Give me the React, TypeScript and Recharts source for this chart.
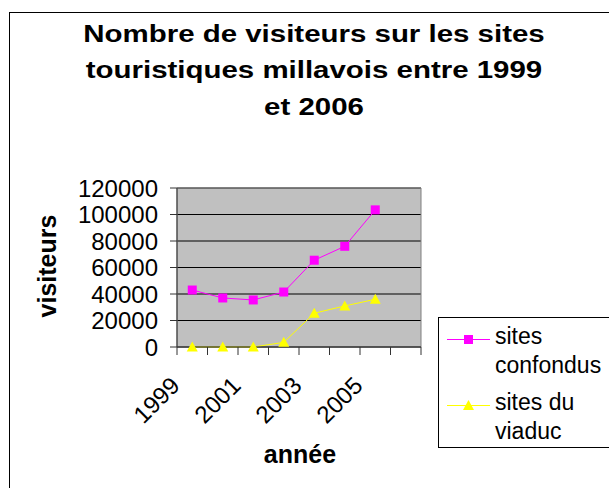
import { LineChart, Line, XAxis, YAxis, CartesianGrid, Legend, ReferenceArea } from "recharts"

const FONT = "'Liberation Sans', Arial, sans-serif"

const YEARS = [1999, 2000, 2001, 2002, 2003, 2004, 2005, 2006]
const SITES_CONFONDUS = [43000, 37000, 35500, 41500, 65500, 76000, 103500, null]
const SITES_VIADUC = [0, 0, 0, 3500, 25500, 31000, 36000, null]
const Y_TICKS = [0, 20000, 40000, 60000, 80000, 100000, 120000]
const YEAR_LABELS = [1999, 2001, 2003, 2005]
const TITLE_LINES = ["Nombre de visiteurs sur les sites", "touristiques millavois entre 1999", "et 2006"]

const MAGENTA = "#FF00FF"
const YELLOW = "#FFFF00"

const data = YEARS.map((year, i) => ({
  year,
  confondus: SITES_CONFONDUS[i],
  viaduc: SITES_VIADUC[i],
}))

const xMin = YEARS[0] - 0.5
const xMax = YEARS[YEARS.length - 1] + 0.5
const boundaries = [...YEARS.map((y) => y - 0.5), xMax]
const xTicks = [...boundaries, ...YEAR_LABELS].sort((a, b) => a - b)

function XTick({ x, y, payload }: any) {
  const v = payload.value
  if (YEAR_LABELS.includes(v)) {
    return (
      <g transform={`translate(${x - 11},${y + 40}) rotate(-45)`}>
        <text x={0} y={0} textAnchor="end" fontSize={24} fontFamily={FONT} fill="#000">
          {v}
        </text>
      </g>
    )
  }
  return <line x1={x} x2={x} y1={y} y2={y + 8} stroke="#333" />
}

function SquareDot({ cx, cy }: any) {
  if (cx == null || cy == null) return <g />
  return <rect x={cx - 4.5} y={cy - 4.5} width={9} height={9} fill={MAGENTA} />
}

function TriangleDot({ cx, cy }: any) {
  if (cx == null || cy == null) return <g />
  return <polygon points={`${cx},${cy - 5.5} ${cx + 5.5},${cy + 4.5} ${cx - 5.5},${cy + 4.5}`} fill={YELLOW} />
}

function LegendBox({ payload }: any) {
  return (
    <div
      style={{
        border: "1px solid #000",
        background: "#fff",
        width: 200,
        height: 131,
        boxSizing: "border-box",
        paddingTop: 4,
        paddingLeft: 8,
        fontFamily: FONT,
        fontSize: 23,
        lineHeight: "29px",
        color: "#000",
      }}
    >
      {(payload || []).map((p: any) => (
        <div key={p.value} style={{ display: "flex", marginBottom: 8 }}>
          <svg width={43} height={29} style={{ flex: "none", marginRight: 5 }}>
            <line x1={0} x2={43} y1={17.5} y2={17.5} stroke={p.color} />
            {p.dataKey === "confondus" ? (
              <SquareDot cx={21.5} cy={17.5} />
            ) : (
              <TriangleDot cx={21.5} cy={17.5} />
            )}
          </svg>
          <div style={{ width: 120 }}>{p.value}</div>
        </div>
      ))}
    </div>
  )
}

export default function App() {
  return (
    <div
      style={{
        position: "absolute",
        left: 0,
        top: 0,
        width: 609,
        height: 488,
        overflow: "hidden",
        background: "#fff",
        fontFamily: FONT,
      }}
    >
      <div
        style={{
          position: "absolute",
          left: 9,
          top: 12,
          width: 700,
          height: 600,
          border: "1px solid #000",
        }}
      />
      <div style={{ position: "absolute", left: 0, top: 0 }}>
        <LineChart width={609} height={488} data={data} margin={{ top: 188, right: 188, bottom: 0, left: 0 }}>
          <CartesianGrid vertical={false} stroke="#000" fill="#C0C0C0" fillOpacity={1} />
          <ReferenceArea x1={xMin} x2={xMax} y1={0} y2={120000} fill="none" stroke="#808080" />
          <XAxis
            dataKey="year"
            type="number"
            domain={[xMin, xMax]}
            ticks={xTicks}
            interval={0}
            tickLine={false}
            tickSize={0}
            tickMargin={0}
            tick={<XTick />}
            axisLine={{ stroke: "#333" }}
            height={141}
          />
          <YAxis
            domain={[0, 120000]}
            ticks={Y_TICKS}
            interval={0}
            width={177}
            tickSize={7}
            tickMargin={12}
            axisLine={{ stroke: "#333" }}
            tickLine={{ stroke: "#333" }}
            tick={{ fontSize: 24, fill: "#000", fontFamily: FONT }}
          />
          <Line
            dataKey="confondus"
            name="sites confondus"
            stroke={MAGENTA}
            strokeWidth={1}
            dot={<SquareDot />}
            activeDot={false}
            isAnimationActive={false}
          />
          <Line
            dataKey="viaduc"
            name="sites du viaduc"
            stroke={YELLOW}
            strokeWidth={1}
            dot={<TriangleDot />}
            activeDot={false}
            isAnimationActive={false}
          />
          <Legend
            layout="vertical"
            align="center"
            verticalAlign="middle"
            content={<LegendBox />}
            wrapperStyle={{ left: 438, top: 317, width: 200 }}
          />
        </LineChart>
      </div>
      <div
        style={{
          position: "absolute",
          left: 0,
          top: 16,
          width: 628,
          textAlign: "center",
          fontSize: 23,
          fontWeight: "bold",
          lineHeight: "36.3px",
          transform: "scaleX(1.28)",
          transformOrigin: "314px 0",
          color: "#000",
        }}
      >
        {TITLE_LINES.map((l) => (
          <div key={l}>{l}</div>
        ))}
      </div>
      <div
        style={{
          position: "absolute",
          left: 200,
          top: 442,
          width: 200,
          textAlign: "center",
          fontSize: 25,
          fontWeight: "bold",
          lineHeight: "25px",
          color: "#000",
        }}
      >
        année
      </div>
      <div
        style={{
          position: "absolute",
          left: 47,
          top: 266,
          transform: "translate(-50%, -50%) rotate(-90deg)",
          fontSize: 25,
          fontWeight: "bold",
          lineHeight: "25px",
          whiteSpace: "nowrap",
          color: "#000",
        }}
      >
        visiteurs
      </div>
    </div>
  )
}
